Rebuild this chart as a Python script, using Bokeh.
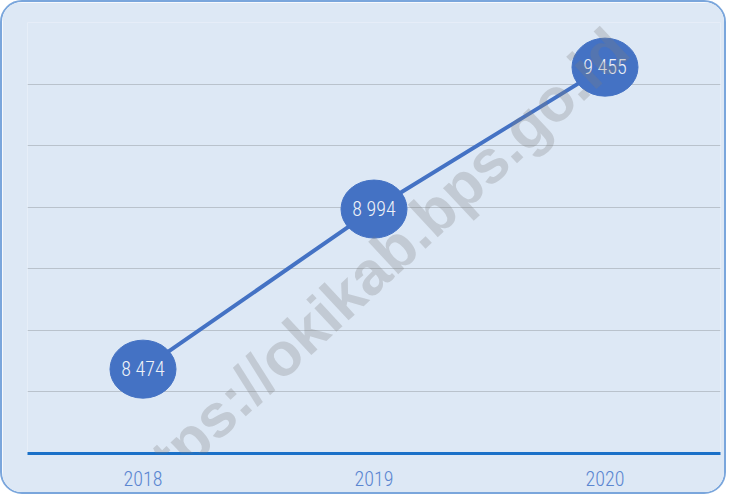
from bokeh.plotting import figure
from bokeh.models import FactorRange, Range1d, FixedTicker, Label, ColumnDataSource
from bokeh.core.properties import value
from bokeh.embed import file_html
from bokeh.resources import INLINE

years = ["2018", "2019", "2020"]
values = [8474, 8994, 9455]
value_labels = ["8 474", "8 994", "9 455"]
grid_ticks = [8200, 8400, 8600, 8800, 9000, 9200, 9400, 9600]
watermark = "https://okikab.bps.go.id"

BG = "#dde8f5"
BLUE = "#4472c4"
FONT = "'Roboto Condensed Light', 'Roboto Condensed', 'Liberation Sans Narrow', 'DejaVu Sans Condensed', sans-serif"

p = figure(
    width=726, height=494,
    x_range=FactorRange(factors=years, range_padding=0),
    y_range=Range1d(8200, 9600),
    output_backend="svg", toolbar_location=None,
    min_border_left=25, min_border_right=8, min_border_top=20, min_border_bottom=43,
    background_fill_color=BG, border_fill_color=BG,
    styles={"border-radius": "22px", "border": "2px solid #7aa6dc", "overflow": "hidden",
            "box-sizing": "border-box"},
)
p.outline_line_color = None
p.yaxis.visible = False
p.xgrid.visible = False
p.ygrid.ticker = FixedTicker(ticks=grid_ticks)
p.ygrid.grid_line_color = "#b9c2cc"
p.ygrid.grid_line_width = 1

p.xaxis.axis_line_color = "#1a70c8"
p.xaxis.axis_line_width = 3
p.xaxis.major_tick_line_color = None
p.xaxis.minor_tick_line_color = None
p.xaxis.major_label_text_color = "#5b86d1"
p.xaxis.major_label_text_font_size = "20px"
p.xaxis.major_label_text_font = FONT
p.xaxis.major_label_standoff = 11

src = ColumnDataSource(dict(x=years, y=values, t=value_labels))
p.line("x", "y", source=src, line_color=BLUE, line_width=4)
p.ellipse("x", "y", source=src, width=66, height=58, width_units="screen",
          height_units="screen", fill_color=BLUE, line_color=BLUE)
p.text("x", "y", text="t", source=src, text_align="center", text_baseline="middle",
       text_color="#eef1f7", text_font_size="20px", text_font=value(FONT))

wm = Label(x=1.476, y=8786, text=watermark, angle=43, angle_units="deg",
           text_align="center", text_baseline="middle", text_font_size="61px",
           text_font_style="bold", text_font="'Liberation Sans', Arial, sans-serif",
           text_color="#7f7f7f", text_alpha=0.28)
p.add_layout(wm)

open("out.html", "w").write(file_html(p, INLINE))
